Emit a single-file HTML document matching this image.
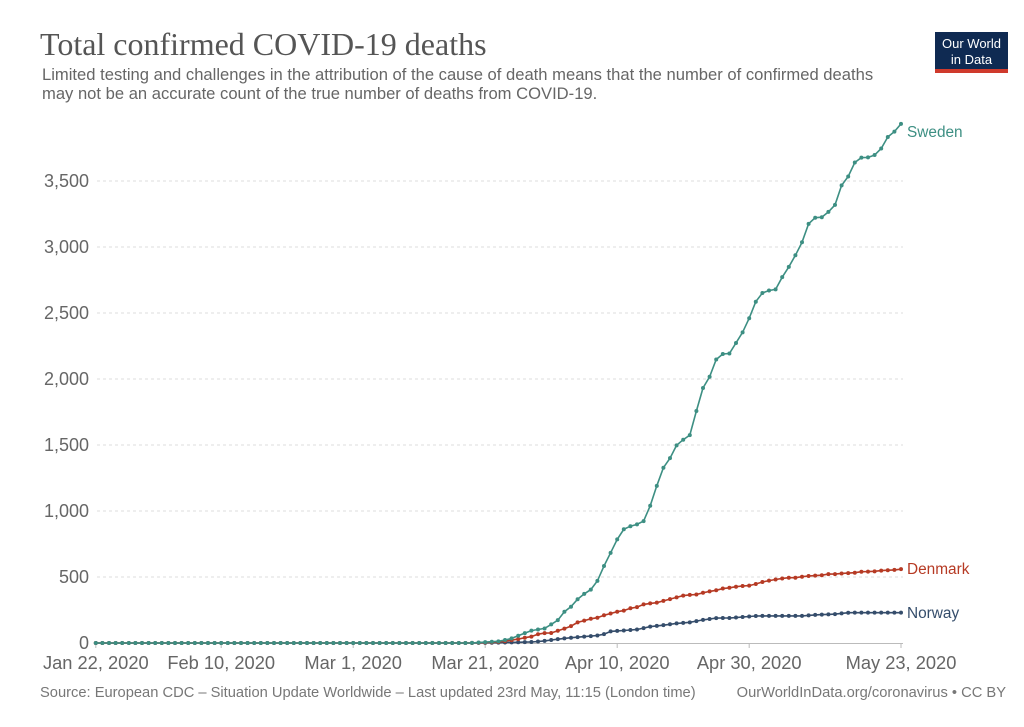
<!DOCTYPE html>
<html><head><meta charset="utf-8">
<style>
body{margin:0;background:#fff;width:1024px;height:722px;overflow:hidden;font-family:"Liberation Sans",sans-serif}
</style></head><body>
<svg width="1024" height="722" xmlns="http://www.w3.org/2000/svg" id="s">
<text x="40" y="55" font-family="Liberation Serif,serif" font-size="32" fill="#555">Total confirmed COVID-19 deaths</text>
<text x="42" y="80" font-size="16.6" fill="#666">Limited testing and challenges in the attribution of the cause of death means that the number of confirmed deaths</text>
<text x="42" y="99" font-size="16.6" fill="#666">may not be an accurate count of the true number of deaths from COVID-19.</text>
<rect x="935" y="32" width="73" height="41" fill="#0f2a52"/>
<rect x="935" y="69" width="73" height="4" fill="#cf3a2c"/>
<text x="971.5" y="48" font-size="13" fill="#fff" text-anchor="middle">Our World</text>
<text x="971.5" y="64" font-size="13" fill="#fff" text-anchor="middle">in Data</text>
<g id="grid"></g>
<g id="series"></g>
<text x="40" y="697" font-size="14.7" fill="#777">Source: European CDC – Situation Update Worldwide – Last updated 23rd May, 11:15 (London time)</text>
<text x="1006" y="697" font-size="14.7" fill="#777" text-anchor="end">OurWorldInData.org/coronavirus • CC BY</text>
<text x="907" y="137" font-size="15.4" fill="#3d8f83">Sweden</text>
<text x="907" y="574" font-size="15.4" fill="#b63a24">Denmark</text>
<text x="907" y="618" font-size="15.4" fill="#354d6b">Norway</text>
</svg>
<script>
var NS="http://www.w3.org/2000/svg",g=document.getElementById('grid'),se=document.getElementById('series');
function el(t,a,p,txt){var e=document.createElementNS(NS,t);for(var k in a)e.setAttribute(k,a[k]);if(txt)e.textContent=txt;p.appendChild(e);return e;}
for(var i=0;i<=7;i++){var y=643-66*i;
 if(i>0)el('line',{x1:97,x2:903,y1:y,y2:y,stroke:'#ddd','stroke-dasharray':'3,3'},g);
 el('text',{x:89,y:y+6,'font-size':18,fill:'#666','text-anchor':'end'},g,i==0?'0':(i*500).toLocaleString('en-US'));}
el('line',{x1:96,x2:903,y1:643.5,y2:643.5,stroke:'#bbb'},g);
var ticks=[[0,'Jan 22, 2020'],[19,'Feb 10, 2020'],[39,'Mar 1, 2020'],[59,'Mar 21, 2020'],[79,'Apr 10, 2020'],[99,'Apr 30, 2020'],[122,'May 23, 2020']];
ticks.forEach(function(t){var x=95.8+t[0]*6.6;el('line',{x1:x,x2:x,y1:643,y2:648,stroke:'#bbb'},g);
 el('text',{x:x,y:669,'font-size':18.3,fill:'#666','text-anchor':'middle'},g,t[1]);});
function conv(l){return l.map(function(p){return [500+p[0]/3,577+(p[1]-1338)*0.3568];});}
function interp(l){l=conv(l);var pts=[];for(var d=0;d<=122;d++){var x=95.8+d*6.6,y=643;
 if(x>=l[0][0]){y=l[l.length-1][1];for(var j=0;j<l.length-1;j++){if(x>=l[j][0]&&x<=l[j+1][0]){var f=(x-l[j][0])/(l[j+1][0]-l[j][0]);y=l[j][1]+f*(l[j+1][1]-l[j][1]);break;}}}
 if(x<l[0][0]){y=643-(643-l[0][1])*Math.max(0,(x-470)/(l[0][0]-470));}
 pts.push([x,Math.min(643,y)]);}return pts;}
var sw=[[0,1518],[35,1510],[75,1495],[95,1488],[115,1485],[135,1482],[155,1470],[175,1458],[195,1433],[215,1420],[233,1400],[253,1385],[273,1373],[293,1348],[313,1305],[333,1268],[353,1230],[373,1202],[393,1195],[413,1190],[430,1183],[450,1140],[472,1078],[490,1032],[510,1005],[532,965],[550,953],[570,940],[590,870],[610,805],[630,775],[650,725],[670,712],[688,712],[708,682],[728,652],[748,612],[768,565],[787,542],[807,535],[827,532],[847,497],[867,468],[887,435],[907,398],[927,345],[947,330],[965,330],[985,315],[1005,295],[1025,240],[1045,215],[1065,175],[1085,162],[1105,162],[1125,155],[1143,138],[1163,105],[1183,90],[1203,68]];
var dk=[[0,1520],[55,1512],[75,1508],[95,1505],[115,1498],[135,1495],[155,1495],[175,1488],[195,1482],[215,1475],[233,1465],[253,1460],[273,1455],[293,1452],[313,1445],[333,1440],[353,1435],[373,1432],[393,1425],[413,1422],[430,1415],[450,1412],[470,1410],[490,1405],[510,1400],[530,1395],[550,1390],[570,1388],[590,1387],[610,1382],[630,1378],[650,1375],[670,1370],[690,1368],[710,1365],[730,1363],[750,1362],[770,1357],[787,1352],[807,1348],[827,1345],[847,1342],[867,1340],[887,1340],[907,1337],[927,1335],[947,1334],[965,1333],[985,1330],[1005,1330],[1025,1328],[1045,1327],[1065,1326],[1085,1323],[1105,1323],[1125,1322],[1143,1320],[1163,1319],[1183,1318],[1203,1316]];
var no=[[0,1522],[100,1520],[135,1517],[175,1512],[215,1508],[253,1505],[293,1502],[313,1498],[333,1490],[373,1488],[413,1485],[450,1477],[490,1473],[530,1468],[570,1465],[610,1458],[650,1453],[690,1453],[730,1450],[770,1447],[850,1447],[907,1447],[947,1444],[1005,1442],[1045,1438],[1203,1438]];
[[no,'#354d6b'],[dk,'#b63a24'],[sw,'#3d8f83']].forEach(function(s){var p=interp(s[0]);
 el('polyline',{points:p.map(function(q){return q[0].toFixed(1)+','+q[1].toFixed(1)}).join(' '),fill:'none',stroke:s[1],'stroke-width':1.6},se);
 p.forEach(function(q){el('circle',{cx:q[0],cy:q[1],r:2,fill:s[1]},se);});});
</script>
</body></html>
